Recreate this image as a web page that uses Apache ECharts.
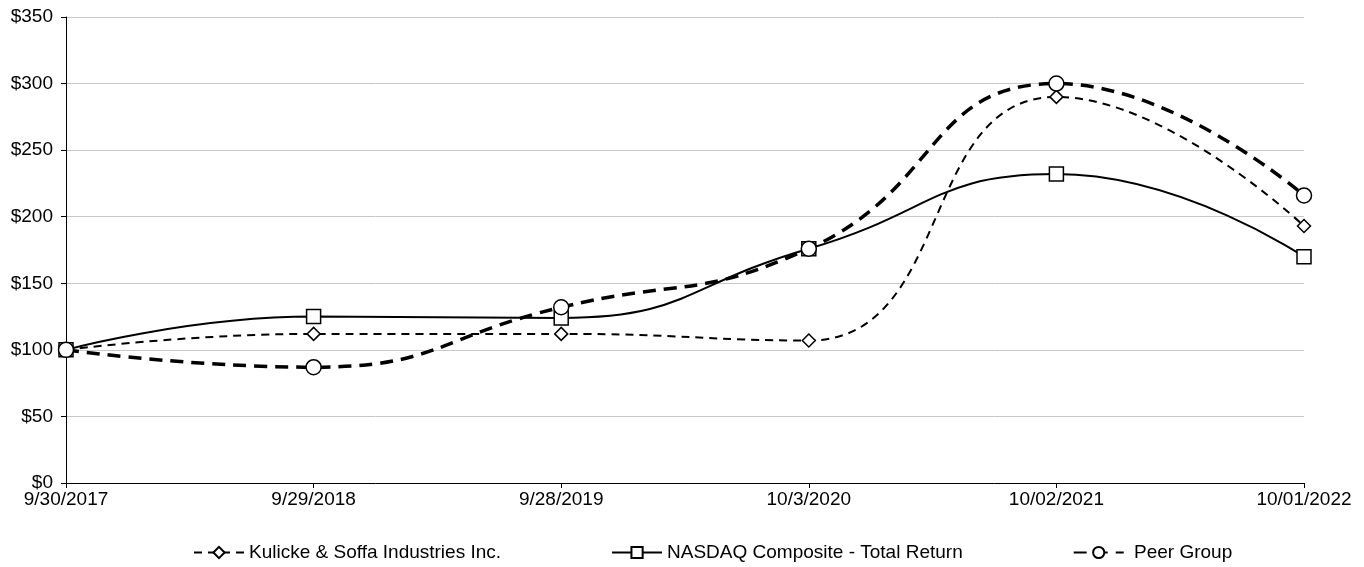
<!DOCTYPE html>
<html>
<head>
<meta charset="utf-8">
<script src="https://cdn.jsdelivr.net/npm/echarts@6/dist/echarts.min.js"></script>
<style>
  html, body { margin: 0; padding: 0; background: #fff; }
  #chart { width: 1364px; height: 567px; }
</style>
</head>
<body>
<div id="chart"></div>
<script>
const dates = ["9/30/2017", "9/29/2018", "9/28/2019", "10/3/2020", "10/02/2021", "10/01/2022"];
const kulicke = [100, 112, 112, 107, 290, 193];
const nasdaq = [100, 125, 124, 176, 232, 170];
const peer = [100, 87, 132, 176, 300, 216];

(function () {
  const chart = echarts.init(document.getElementById("chart"));
  const font = "Arial, 'Liberation Sans', sans-serif";

  function line(name, data, symbol, size, width, dash) {
    return {
      name,
      type: "line",
      data,
      smooth: 0.5,
      symbol,
      symbolSize: size,
      showAllSymbol: true,
      itemStyle: { color: "#fff", borderColor: "#000", borderWidth: 1.5 },
      lineStyle: { color: "#000", width, type: dash },
      emphasis: { disabled: true },
    };
  }

  chart.setOption({
    animation: false,
    grid: { left: 66, right: 60, top: 17, bottom: 84 },
    legend: {
      top: 538,
      left: 188,
      itemWidth: 50,
      itemHeight: 14,
      itemGap: 110,
      textStyle: { fontFamily: font, fontSize: 19, color: "#000" },
      formatter: (name) => (name === "Peer Group" ? " " + name : name),
      data: [
        "Kulicke & Soffa Industries Inc.",
        "NASDAQ Composite - Total Return",
        "Peer Group",
      ],
    },
    xAxis: {
      type: "category",
      data: dates,
      boundaryGap: false,
      axisLine: { lineStyle: { color: "#000", width: 1 } },
      axisTick: { show: true, length: 5, lineStyle: { color: "#000" } },
      axisLabel: { fontFamily: font, fontSize: 19, color: "#000", margin: 7 },
      splitLine: { show: false },
    },
    yAxis: {
      type: "value",
      min: 0,
      max: 350,
      interval: 50,
      axisLine: { show: true, lineStyle: { color: "#000", width: 1 } },
      axisTick: { show: true, length: 5, lineStyle: { color: "#000" } },
      axisLabel: {
        fontFamily: font,
        fontSize: 19,
        color: "#000",
        margin: 13,
        formatter: (v) => "$" + v,
      },
      splitLine: { lineStyle: { color: "#c8c8c8", width: 1 } },
    },
    series: [
      line("Kulicke & Soffa Industries Inc.", kulicke, "diamond", 13, 2, [8, 6]),
      line("NASDAQ Composite - Total Return", nasdaq, "rect", 14, 2, "solid"),
      line("Peer Group", peer, "circle", 15, 3.5, [13, 8]),
    ],
  });
})();
</script>
</body>
</html>
